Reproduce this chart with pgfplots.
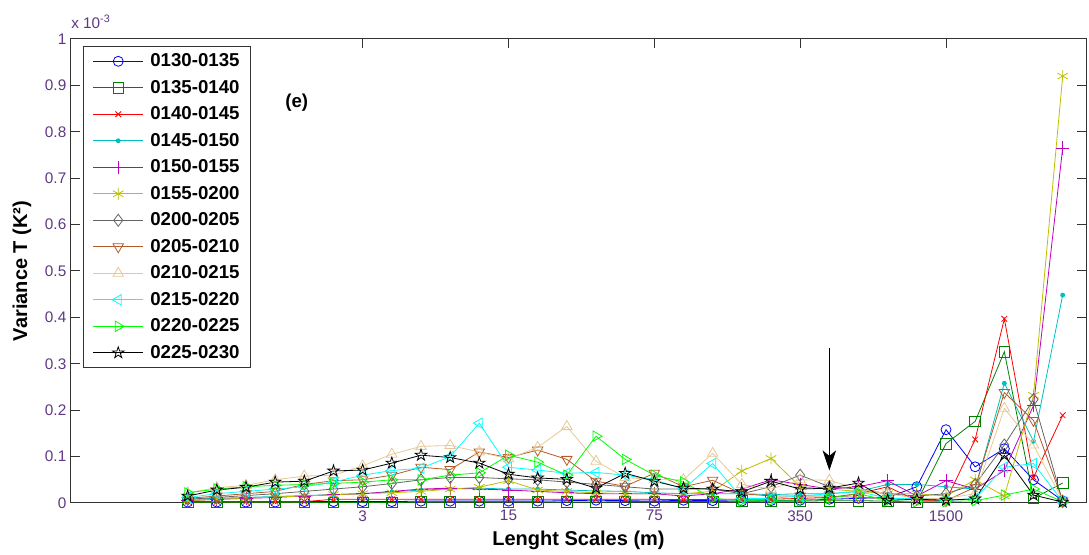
\documentclass[border=0pt]{standalone}
\usepackage{fontspec}
\setmainfont{Liberation Sans}
\usepackage{pgfplots}
\pgfplotsset{compat=1.18}
\usepackage{pgfplotstable}
\usetikzlibrary{arrows.meta,plotmarks}

\definecolor{tickcol}{RGB}{95,55,130}
\definecolor{cA}{RGB}{0,0,255}
\definecolor{cB}{RGB}{0,128,0}
\definecolor{cC}{RGB}{255,0,0}
\definecolor{cD}{RGB}{0,191,191}
\definecolor{cE}{RGB}{191,0,191}
\definecolor{cF}{RGB}{191,191,0}
\definecolor{cG}{RGB}{100,100,100}
\definecolor{cH}{RGB}{180,90,40}
\definecolor{cK}{RGB}{230,200,150}
\definecolor{cL}{RGB}{0,255,255}
\definecolor{cM}{RGB}{0,255,0}
\definecolor{cN}{RGB}{0,0,0}

\pgfdeclareplotmark{pentagram}{%
  \pgfpathmoveto{\pgfpointpolar{90}{\pgfplotmarksize}}%
  \pgfpathlineto{\pgfpointpolar{126}{0.382\pgfplotmarksize}}%
  \pgfpathlineto{\pgfpointpolar{162}{\pgfplotmarksize}}%
  \pgfpathlineto{\pgfpointpolar{198}{0.382\pgfplotmarksize}}%
  \pgfpathlineto{\pgfpointpolar{234}{\pgfplotmarksize}}%
  \pgfpathlineto{\pgfpointpolar{270}{0.382\pgfplotmarksize}}%
  \pgfpathlineto{\pgfpointpolar{306}{\pgfplotmarksize}}%
  \pgfpathlineto{\pgfpointpolar{342}{0.382\pgfplotmarksize}}%
  \pgfpathlineto{\pgfpointpolar{18}{\pgfplotmarksize}}%
  \pgfpathlineto{\pgfpointpolar{54}{0.382\pgfplotmarksize}}%
  \pgfpathclose
  \pgfusepathqstroke
}

\pgfplotstableread{
i a b c d e f g h k l m n
0 0.002 0.001 0.003 0.008 0.005 0.005 0.008 0.010 0.022 0.012 0.022 0.015
1 0.002 0.001 0.003 0.010 0.008 0.008 0.012 0.015 0.033 0.020 0.030 0.028
2 0.002 0.001 0.003 0.012 0.010 0.010 0.016 0.020 0.038 0.025 0.035 0.034
3 0.002 0.001 0.003 0.014 0.012 0.013 0.020 0.025 0.050 0.030 0.038 0.045
4 0.003 0.001 0.003 0.016 0.015 0.015 0.025 0.040 0.058 0.035 0.040 0.047
5 0.003 0.001 0.008 0.018 0.018 0.018 0.030 0.048 0.060 0.045 0.042 0.069
6 0.003 0.001 0.008 0.020 0.020 0.020 0.035 0.050 0.080 0.060 0.045 0.071
7 0.003 0.001 0.008 0.024 0.025 0.022 0.042 0.060 0.105 0.070 0.050 0.086
8 0.004 0.002 0.008 0.028 0.030 0.025 0.050 0.077 0.122 0.075 0.050 0.103
9 0.004 0.002 0.008 0.030 0.032 0.030 0.055 0.072 0.124 0.100 0.060 0.098
10 0.004 0.002 0.008 0.032 0.030 0.034 0.055 0.110 0.110 0.172 0.065 0.086
11 0.004 0.002 0.008 0.030 0.028 0.048 0.052 0.098 0.095 0.077 0.103 0.062
12 0.004 0.002 0.008 0.030 0.025 0.028 0.050 0.114 0.120 0.071 0.088 0.054
13 0.005 0.002 0.008 0.028 0.022 0.025 0.045 0.094 0.165 0.064 0.060 0.051
14 0.006 0.002 0.008 0.026 0.020 0.022 0.040 0.047 0.090 0.066 0.144 0.032
15 0.005 0.003 0.008 0.025 0.020 0.020 0.035 0.036 0.055 0.060 0.094 0.064
16 0.004 0.003 0.008 0.022 0.020 0.020 0.030 0.064 0.050 0.050 0.060 0.047
17 0.006 0.003 0.007 0.020 0.015 0.020 0.030 0.035 0.050 0.030 0.045 0.032
18 0.005 0.003 0.008 0.020 0.020 0.025 0.030 0.049 0.107 0.085 0.010 0.030
19 0.004 0.004 0.008 0.020 0.030 0.069 0.020 0.020 0.040 0.010 0.005 0.024
20 0.005 0.004 0.008 0.018 0.050 0.096 0.035 0.015 0.030 0.010 0.005 0.047
21 0.006 0.004 0.010 0.020 0.040 0.035 0.060 0.015 0.050 0.015 0.005 0.030
22 0.008 0.005 0.012 0.020 0.030 0.030 0.035 0.015 0.049 0.020 0.010 0.032
23 0.010 0.005 0.020 0.025 0.035 0.025 0.030 0.012 0.030 0.025 0.020 0.043
24 0.012 0.004 0.035 0.040 0.048 0.020 0.020 0.010 0.020 0.010 0.005 0.006
25 0.035 0.002 0.005 0.040 0.015 0.020 0.015 0.008 0.010 0.010 0.003 0.008
26 0.158 0.128 0.005 0.035 0.048 0.015 0.020 0.005 0.010 0.005 0.003 0.006
27 0.078 0.176 0.137 0.030 0.030 0.050 0.040 0.034 0.020 0.010 0.005 0.009
28 0.117 0.326 0.397 0.258 0.070 0.015 0.125 0.238 0.204 0.077 0.017 0.103
29 0.050 0.010 0.055 0.133 0.210 0.232 0.223 0.178 0.125 0.085 0.030 0.017
30 0.005 0.043 0.189 0.448 0.765 0.920 0.003 0.005 0.005 0.003 0.003 0.002
}\data

\begin{document}
\begin{tikzpicture}
\path[use as bounding box] (-53.25pt,-39pt) rectangle (763.5pt,377.25pt);
\begin{axis}[
  at={(0,0)}, anchor=south west,
  scale only axis, width=761.25pt, height=348pt,
  clip=false,
  xmin=-4, xmax=30.8, ymin=0, ymax=1,
  xtick={6,11,16,21,26}, xticklabels={3,15,75,350,1500},
  ytick={0,0.1,0.2,0.3,0.4,0.5,0.6,0.7,0.8,0.9,1},
  yticklabels={0,0.1,0.2,0.3,0.4,0.5,0.6,0.7,0.8,0.9,1},
  tick align=inside, major tick length=6.5pt,
  xtick pos=both, ytick pos=both,
  ticklabel style={font=\fontsize{11.5}{13}\selectfont, text=tickcol},
  xticklabel style={yshift=-2pt},
  axis line style={black!80, line width=0.75pt},
  every tick/.style={black!80, line width=0.75pt},
  legend style={at={(axis description cs:0.0118,0.985)}, anchor=north west,
    draw=black!80, line width=0.75pt, fill=white,
    font=\fontsize{14}{16}\selectfont\bfseries,
    inner xsep=7pt, inner ysep=4pt, row sep=5.6pt, nodes={inner sep=1.5pt},
    /tikz/every odd column/.append style={column sep=3.5pt}},
  legend cell align=left,
  legend image code/.code={\draw[mark repeat=2, mark phase=2, #1] plot coordinates {(0cm,0cm) (0.66cm,0cm) (1.32cm,0cm)};},
  every axis plot/.append style={line width=0.6pt},
]
\addplot[color=cA, mark=o, mark size=3.75pt] table[x=i,y=a]{\data};
\addlegendentry{0130-0135}
\addplot[color=cB, mark=square, mark size=4pt] table[x=i,y=b]{\data};
\addlegendentry{0135-0140}
\addplot[color=cC, mark=x, mark size=3pt] table[x=i,y=c]{\data};
\addlegendentry{0140-0145}
\addplot[color=cD, mark=*, mark size=1.5pt] table[x=i,y=d]{\data};
\addlegendentry{0145-0150}
\addplot[color=cE, mark=+, mark size=5pt] table[x=i,y=e]{\data};
\addlegendentry{0150-0155}
\addplot[color=cF, mark=asterisk, mark size=4.5pt] table[x=i,y=f]{\data};
\addlegendentry{0155-0200}
\addplot[color=cG, mark=diamond, mark size=4.5pt] table[x=i,y=g]{\data};
\addlegendentry{0200-0205}
\addplot[color=cH, mark=triangle, mark size=4.5pt, mark options={rotate=180}] table[x=i,y=h]{\data};
\addlegendentry{0205-0210}
\addplot[color=cK, mark=triangle, mark size=4.5pt] table[x=i,y=k]{\data};
\addlegendentry{0210-0215}
\addplot[color=cL, mark=triangle, mark size=4.5pt, mark options={rotate=90}] table[x=i,y=l]{\data};
\addlegendentry{0215-0220}
\addplot[color=cM, mark=triangle, mark size=4.5pt, mark options={rotate=-90}] table[x=i,y=m]{\data};
\addlegendentry{0220-0225}
\addplot[color=cN, mark=pentagram, mark size=4.5pt] table[x=i,y=n]{\data};
\addlegendentry{0225-0230}

\draw[black, line width=0.75pt, -{Stealth[length=15pt,width=10pt,inset=4pt]}] (axis cs:22,0.333) -- (axis cs:22,0.07);
\node[font=\fontsize{14}{16}\selectfont\bfseries] at (axis cs:3.74,0.863) {(e)};
\node[anchor=base west, inner sep=0pt, font=\fontsize{11.5}{13}\selectfont, text=tickcol] at ([yshift=8pt]axis description cs:0,1) {x 10\textsuperscript{-3}};
\node[rotate=90, font=\fontsize{15}{18}\selectfont\bfseries] at (axis description cs:-0.0483,0.5) {Variance T (K²)};
\node[font=\fontsize{15}{18}\selectfont\bfseries] at (axis description cs:0.5,-0.0797) {Lenght Scales (m)};
\end{axis}
\end{tikzpicture}
\end{document}
